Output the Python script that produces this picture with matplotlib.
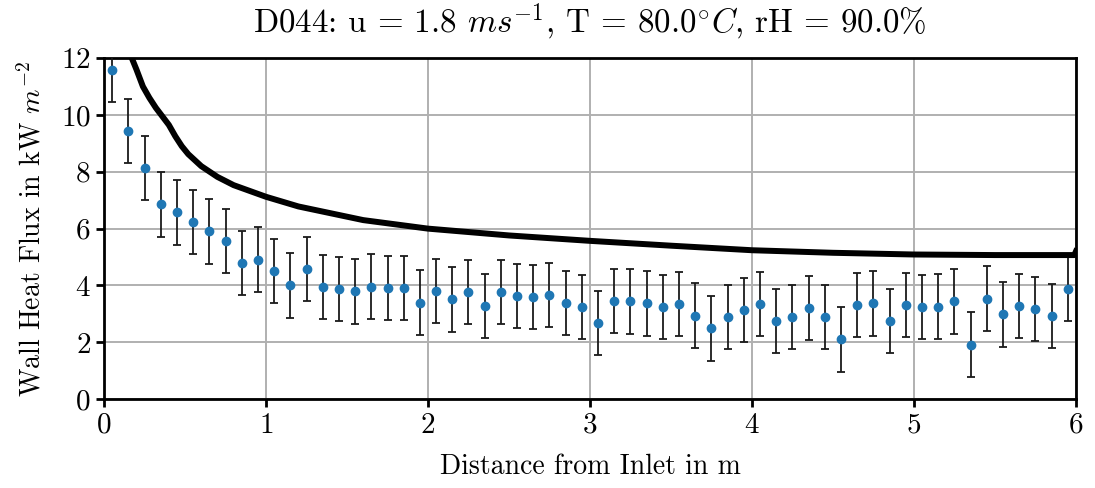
import matplotlib
matplotlib.use('Agg')
import matplotlib.pyplot as plt
import numpy as np

plt.rcParams['font.family'] = ['cmr10', 'DejaVu Serif']
plt.rcParams['mathtext.fontset'] = 'cm'
plt.rcParams['axes.unicode_minus'] = False
plt.rcParams['axes.formatter.use_mathtext'] = True

# measured wall heat flux, segment centres every 0.1 m
x_meas = np.arange(60) * 0.1 + 0.05
q_meas = [11.57, 9.44, 8.14, 6.85, 6.57, 6.24, 5.90, 5.56, 4.80, 4.91,
          4.51, 4.00, 4.57, 3.95, 3.87, 3.79, 3.96, 3.91, 3.91, 3.40,
          3.81, 3.51, 3.77, 3.28, 3.78, 3.62, 3.59, 3.67, 3.39, 3.25,
          2.69, 3.46, 3.44, 3.37, 3.23, 3.34, 2.94, 2.49, 2.90, 3.13,
          3.35, 2.76, 2.90, 3.21, 2.89, 2.10, 3.31, 3.37, 2.74, 3.31,
          3.25, 3.26, 3.44, 1.92, 3.54, 2.98, 3.27, 3.17, 2.92, 3.88]
q_err = 1.13

# model curve
x_model = [0.15, 0.2, 0.24, 0.28, 0.32, 0.36, 0.40, 0.44, 0.48, 0.52, 0.6,
           0.7, 0.8, 1.0, 1.2, 1.6, 2.0, 2.5, 3.0, 3.5, 4.0, 4.5, 5.0, 5.5,
           5.99, 6.0]
q_model = [12.3, 11.6, 11.0, 10.6, 10.25, 9.95, 9.65, 9.25, 8.9, 8.62, 8.2,
           7.82, 7.53, 7.12, 6.78, 6.3, 6.0, 5.76, 5.57, 5.4, 5.24, 5.15,
           5.09, 5.07, 5.07, 5.2]

fig = plt.figure(figsize=(10.95, 4.88), dpi=100)
ax = fig.add_axes([0.095, 0.182, 0.8876, 0.699])

ax.errorbar(x_meas, q_meas, yerr=q_err, fmt='o', color='tab:blue',
            markersize=6, ecolor='#1a1a1a', elinewidth=1.3, capsize=3.2,
            capthick=1.3, zorder=3)
ax.plot(x_model, q_model, color='black', linewidth=4.3, zorder=4)

ax.set_xlim(0, 6)
ax.set_ylim(0, 12)
ax.set_xticks(range(0, 7))
ax.set_yticks(range(0, 13, 2))
ax.grid(True, color='#b0b0b0', linewidth=1.4)
ax.set_axisbelow(True)
for s in ax.spines.values():
    s.set_linewidth(2.0)
ax.tick_params(labelsize=21, width=2.0, length=6)

ax.set_title(r'D044: u = 1.8 $ms^{-1}$, T = 80.0$^{\circ}C$, rH = 90.0%',
             fontsize=23.8, pad=18)
ax.set_xlabel('Distance from Inlet in m', fontsize=20, labelpad=11)
ax.set_ylabel(r'Wall Heat Flux in kW $m^{-2}$', fontsize=20, labelpad=10)

fig.savefig('out.png', dpi=100)
